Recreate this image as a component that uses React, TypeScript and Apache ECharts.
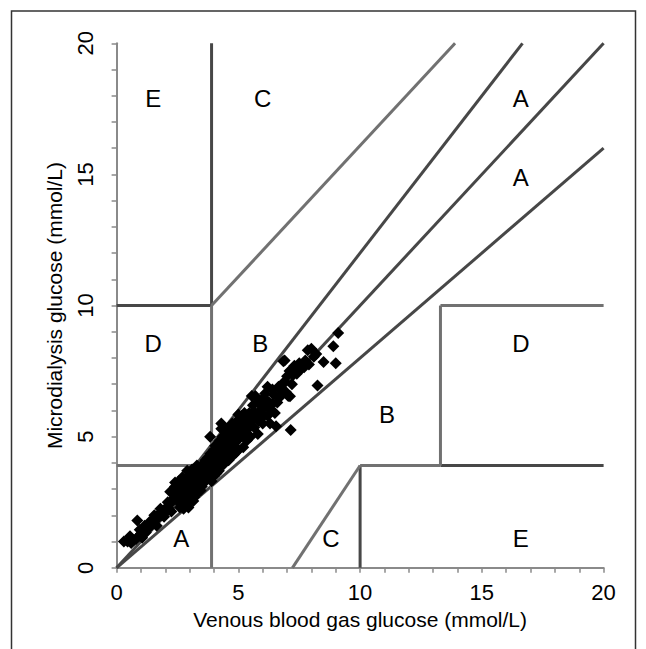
import React, { useEffect, useRef } from "react";
import * as echarts from "echarts";

const xTicks = [0, 5, 10, 15, 20];
const yTicks = [0, 5, 10, 15, 20];

// Measurements: [venous blood gas glucose, microdialysis glucose] (mmol/L)
const measurements: number[][] = [
  [0.3, 1.0], [0.45, 1.0], [0.6, 0.95], [0.7, 1.05], [0.8, 1.1], [0.85, 1.8], [0.9, 1.2],
  [1.0, 1.3], [1.05, 1.15], [1.1, 1.4], [1.2, 1.35], [1.25, 1.55], [1.3, 1.5], [1.4, 1.6],
  [1.45, 1.7], [1.5, 1.85], [1.6, 1.8], [1.7, 1.95], [1.75, 2.05], [1.85, 2.0], [1.9, 2.15],
  [2.0, 2.1], [2.05, 2.3], [2.15, 2.25], [2.2, 2.45], [2.3, 2.6], [2.35, 2.9], [2.4, 3.1],
  [2.45, 2.75], [2.5, 3.2], [2.55, 2.5], [2.6, 2.95], [2.65, 3.3], [2.7, 2.7], [2.75, 3.1],
  [2.8, 2.4], [2.85, 2.85], [2.9, 3.2], [2.95, 2.3], [3.0, 2.6], [3.0, 3.5], [3.05, 2.95],
  [3.1, 3.75], [3.15, 3.3], [3.2, 2.7], [3.25, 3.1], [3.3, 3.6], [3.35, 2.9], [3.4, 3.35],
  [3.45, 3.85], [3.5, 3.1], [3.55, 3.6], [3.6, 4.0], [3.65, 3.3], [3.7, 3.8], [3.75, 4.2],
  [3.8, 3.45], [3.85, 4.35], [3.9, 3.7], [3.95, 4.1], [4.0, 3.5], [4.0, 4.5], [4.05, 3.9],
  [4.1, 4.3], [4.15, 4.7], [4.2, 3.7], [4.25, 4.1], [4.3, 4.55], [4.35, 5.0], [4.4, 3.95],
  [4.45, 4.4], [4.5, 4.8], [4.55, 5.3], [4.6, 4.1], [4.65, 4.6], [4.7, 5.05], [4.75, 5.5],
  [4.8, 4.3], [4.85, 4.75], [4.9, 5.2], [4.95, 5.6], [5.0, 4.5], [5.05, 4.95], [5.1, 5.4],
  [5.15, 5.8], [5.2, 4.6], [5.25, 5.1], [5.3, 5.55], [5.35, 4.85], [5.4, 5.3], [5.45, 5.9],
  [5.5, 5.0], [5.55, 5.65], [5.6, 6.2], [5.65, 5.35], [5.7, 6.55], [5.75, 5.8], [5.8, 5.1],
  [5.9, 6.0], [5.95, 6.4], [6.0, 5.5], [6.05, 6.1], [6.1, 6.65], [6.2, 5.8], [6.25, 6.3],
  [6.3, 5.5], [6.35, 6.0], [6.45, 6.6], [6.5, 5.9], [6.55, 5.4], [6.6, 6.3], [6.65, 6.9],
  [6.7, 6.5], [6.8, 7.0], [6.9, 7.9], [6.95, 6.7], [7.0, 7.3], [7.05, 6.55], [7.1, 7.5],
  [7.15, 5.25], [7.2, 7.0], [7.3, 7.7], [7.4, 7.4], [7.5, 7.8], [7.6, 7.6], [7.75, 7.9],
  [7.85, 8.3], [7.9, 7.75], [8.0, 8.35], [8.1, 8.05], [8.25, 6.95], [8.5, 7.85], [8.9, 8.45],
  [9.0, 7.8], [9.1, 8.95],
  [2.6, 2.3], [2.9, 2.55], [3.1, 2.85], [3.3, 3.0], [3.5, 3.3], [3.7, 3.5], [3.9, 3.3],
  [4.1, 3.6], [4.3, 3.9], [4.5, 4.2], [4.7, 4.3], [4.9, 4.4], [3.2, 3.5], [3.4, 3.7],
  [3.6, 3.9], [3.8, 4.0], [4.2, 4.4], [4.4, 4.6], [4.6, 4.9], [4.8, 5.0], [5.0, 5.3],
  [5.2, 5.5], [5.4, 5.7], [2.2, 2.9], [2.4, 3.25], [2.7, 3.45], [2.9, 3.7], [3.3, 3.9],
  [4.0, 4.1], [4.3, 5.3], [5.2, 5.75], [5.0, 5.85], [3.84, 5.0], [4.3, 5.5], [5.55, 6.55],
  [6.85, 7.88], [7.12, 6.54], [6.0, 6.3], [6.4, 6.8], [6.2, 6.9], [5.8, 6.3],
  [0.55, 1.2], [0.95, 1.45], [1.15, 1.6], [1.35, 1.75], [1.55, 2.0], [1.65, 1.6], [1.8, 2.25],
  [1.95, 1.95], [2.1, 2.5], [2.25, 2.15], [2.3, 2.95], [2.45, 3.05], [2.55, 3.3], [2.65, 2.6],
  [2.75, 2.25], [2.85, 3.35], [2.95, 3.0], [3.05, 3.3], [3.15, 2.55], [3.25, 3.75], [3.35, 3.25],
  [3.45, 2.95], [3.55, 3.85], [3.65, 4.1], [3.75, 3.65], [3.85, 3.9], [3.95, 4.4], [4.05, 4.65],
  [4.15, 4.0], [4.25, 4.85], [4.35, 4.25], [4.45, 5.05], [4.55, 4.5], [4.65, 5.3], [4.75, 4.75],
  [4.85, 5.45], [4.95, 4.85], [5.05, 5.65], [5.15, 5.05], [5.25, 5.9], [5.35, 5.45], [5.5, 5.45],
  [5.65, 5.95], [5.85, 5.6], [6.05, 5.8], [6.15, 6.4], [6.4, 6.25], [6.75, 6.75], [6.9, 7.1],
  [7.25, 7.35], [7.7, 7.65], [8.2, 8.15],
];

// Error-grid boundaries (mmol/L), drawn in a dark grey
const darkSegments: number[][][] = [
  [[3.9, 10], [3.9, 20]],
  [[0, 10], [3.9, 10]],
  [[3.24, 3.9], [16.67, 20]],
  [[0, 0], [20, 20]],
  [[0, 0], [20, 16]],
  [[10, 0], [10, 3.9]],
  [[13.3, 3.9], [20, 3.9]],
];
// Error-grid boundaries drawn in a lighter grey
const greySegments: number[][][] = [
  [[0, 3.9], [3.24, 3.9]],
  [[3.9, 0], [3.9, 10]],
  [[3.9, 10], [13.9, 20]],
  [[7.22, 0], [10, 3.9]],
  [[10, 3.9], [13.3, 3.9]],
  [[13.3, 3.9], [13.3, 10]],
  [[13.3, 10], [20, 10]],
];

const zoneLetters = ["E", "C", "A", "A", "D", "B", "D", "B", "A", "C", "E"];
const zoneLabelPoints: number[][] = [
  [1.5, 17.9], [6.0, 17.9], [16.6, 17.9], [16.6, 14.9], [1.5, 8.55], [5.9, 8.55],
  [16.6, 8.55], [11.1, 5.85], [2.65, 1.1], [8.8, 1.1], [16.6, 1.1],
];

const DARK = "#474747";
const GREY = "#717171";
const FONT = "Liberation Sans, Arial, sans-serif";

export default function App() {
  const ref = useRef<HTMLDivElement>(null);
  useEffect(() => {
    if (!ref.current) return;
    const chart = echarts.init(ref.current, null, { renderer: "svg" });
    const seg = (s: number[][], color: string) => ({
      type: "line",
      data: s,
      symbol: "none",
      silent: true,
      z: 2,
      lineStyle: { color, width: 3, cap: "butt" },
    });
    const axisCommon = {
      type: "value",
      min: xTicks[0],
      max: xTicks[xTicks.length - 1],
      interval: 5,
      splitLine: { show: false },
      axisLine: { show: true, lineStyle: { color: "#8a8a8a", width: 2 } },
      axisTick: { show: true, length: 5, lineStyle: { color: "#8a8a8a", width: 1.5 } },
      minorTick: { show: true, splitNumber: 5, length: 5, lineStyle: { color: "#8a8a8a", width: 1.5 } },
      nameTextStyle: { color: "#000", fontSize: 21, fontFamily: FONT },
    };
    chart.setOption({
      animation: false,
      backgroundColor: "#fff",
      grid: { left: 116.6, right: 42.4, top: 43.3, bottom: 81.2 },
      xAxis: {
        ...axisCommon,
        name: "Venous blood gas glucose (mmol/L)",
        nameLocation: "middle",
        nameGap: 40,
        axisLabel: {
          color: "#000", fontSize: 22, fontFamily: FONT, margin: 14,
          formatter: (v: number) => (xTicks.includes(v) ? String(v) : ""),
        },
      },
      yAxis: {
        ...axisCommon,
        min: yTicks[0],
        max: yTicks[yTicks.length - 1],
        name: "Microdialysis glucose (mmol/L)",
        nameLocation: "middle",
        nameGap: 52,
        axisLabel: {
          color: "#000", fontSize: 22, fontFamily: FONT, margin: 20, rotate: 90,
          formatter: (v: number) => (yTicks.includes(v) ? String(v) : ""),
        },
      },
      graphic: [
        {
          type: "rect",
          shape: { x: 11.5, y: 11, width: 624, height: 700 },
          style: { fill: "none", stroke: "#333", lineWidth: 1.5 },
          silent: true,
        },
      ],
      series: [
        ...darkSegments.map((s) => seg(s, DARK)),
        ...greySegments.map((s) => seg(s, GREY)),
        {
          type: "scatter",
          data: measurements,
          symbol: "diamond",
          symbolSize: 12,
          itemStyle: { color: "#000", opacity: 1 },
          z: 5,
        },
        {
          type: "scatter",
          data: zoneLabelPoints.map((p, i) => ({ value: p, name: zoneLetters[i] })),
          symbolSize: 0,
          z: 6,
          itemStyle: { opacity: 1 },
          label: {
            show: true,
            position: "inside",
            formatter: (p: any) => p.name,
            color: "#000",
            fontSize: 24,
            fontFamily: FONT,
          },
        },
      ],
    });
    return () => chart.dispose();
  }, []);
  return (
    <div
      ref={ref}
      style={{ position: "fixed", left: 0, top: 0, width: 646, height: 649 }}
    />
  );
}
